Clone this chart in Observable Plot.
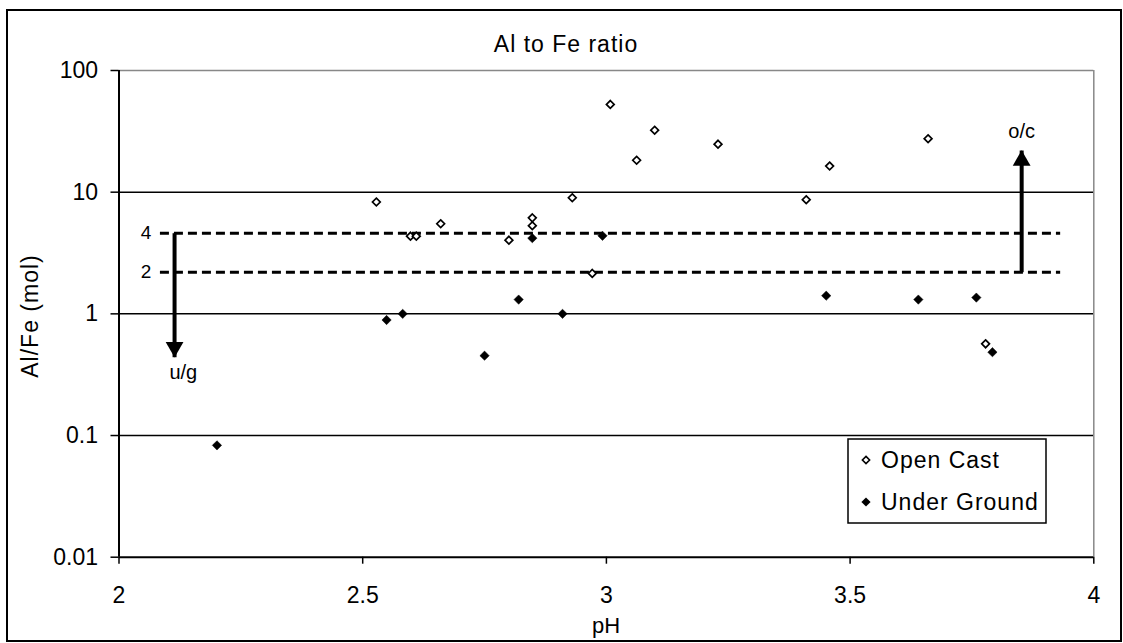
<!DOCTYPE html>
<html><head><meta charset="utf-8">
<script src="https://cdn.jsdelivr.net/npm/d3@7"></script>
<script src="https://cdn.jsdelivr.net/npm/@observablehq/plot@0.6"></script>
<style>
html,body{margin:0;padding:0;background:#fff;}
#chart{width:1123px;height:643px;overflow:hidden;}
</style></head><body><div id="chart"></div>
<script>
// ---- data ----
const openPH    = [2.528, 2.598, 2.610, 2.660, 2.800, 2.848, 2.848, 2.930, 2.971, 3.008, 3.062, 3.099, 3.229, 3.410, 3.458, 3.660, 3.778];
const openRatio = [8.3,   4.35,  4.35,  5.5,   4.03,  6.15,  5.3,   9.0,   2.15,  52.6,  18.3,  32.3,  24.8,  8.67,  16.4,  27.5,  0.567];
const ugPH      = [2.201, 2.549, 2.582, 2.750, 2.820, 2.848, 2.910, 2.992, 3.451, 3.640, 3.759, 3.792];
const ugRatio   = [0.083, 0.89,  1.0,   0.453, 1.31,  4.19,  1.0,   4.38,  1.41,  1.31,  1.36,  0.484];
const seriesNames = ["Open Cast", "Under Ground"];

const xTicks = [2, 2.5, 3, 3.5, 4];
const xTickLabels = ["2", "2.5", "3", "3.5", "4"];
const yTicks = [0.01, 0.1, 1, 10, 100];
const yTickLabels = ["0.01", "0.1", "1", "10", "100"];
const gridValues = [0.1, 1, 10];

const thresholdValues = [4.6, 2.2];
const thresholdLabels = ["4", "2"];
const thresholdStart = 2.085, thresholdEnd = 3.932;

const arrowPH    = [2.114, 3.852];
const arrowFrom  = [4.6, 2.2];
const arrowTo    = [0.44, 22];
const arrowDir   = ["down", "up"];
const arrowLabels = ["u/g", "o/c"];
const arrowLabelPH = [2.132, 3.852];
const arrowLabelY  = [0.33, 31.5];

const titleText = "Al to Fe ratio";
const xLabel = "pH";
const yLabel = "Al/Fe (mol)";

// ---- tables built from arrays ----
const openData = openPH.map((x, i) => ({x, y: openRatio[i]}));
const ugData = ugPH.map((x, i) => ({x, y: ugRatio[i]}));
const thresholds = thresholdValues.map((v, i) => ({v, label: thresholdLabels[i], x1: thresholdStart, x2: thresholdEnd}));
const arrows = arrowPH.map((x, i) => ({x, y1: arrowFrom[i], y2: arrowTo[i], dir: arrowDir[i], label: arrowLabels[i], lx: arrowLabelPH[i], ly: arrowLabelY[i]}));

const W = 1123, H = 643;
const FONT = "'Liberation Sans', Arial, sans-serif";

const plot = Plot.plot({
  width: W, height: H,
  marginLeft: 118.5, marginRight: 29.7, marginTop: 70, marginBottom: 86.3,
  style: {fontFamily: FONT, fontSize: "23px", background: "white", color: "black"},
  x: {domain: [2, 4]},
  y: {type: "log", domain: [0.01, 100]},
  marks: [
    Plot.ruleY(gridValues, {stroke: "black", strokeWidth: 1.5}),
    Plot.ruleY([100], {stroke: "#888", strokeWidth: 1.5}),
    Plot.ruleX([4], {stroke: "#888", strokeWidth: 1.5}),
    Plot.axisX({ticks: xTicks, tickFormat: d => xTickLabels[xTicks.indexOf(d)], tickSize: 7, tickPadding: 22, strokeWidth: 1.5, label: null, fontSize: 23}),
    Plot.axisY({ticks: yTicks, tickFormat: d => yTickLabels[yTicks.indexOf(d)], tickSize: 8, tickPadding: 13, strokeWidth: 1.5, label: null, fontSize: 23}),
    Plot.ruleX([2], {stroke: "black", strokeWidth: 2}),
    Plot.ruleY([0.01], {stroke: "black", strokeWidth: 2}),
    // dashed threshold lines
    Plot.ruleY(thresholds, {y: "v", x1: "x1", x2: "x2", stroke: "black", strokeWidth: 3, strokeDasharray: "9,5"}),
    Plot.text(thresholds, {x: "x1", y: "v", text: "label", textAnchor: "end", dx: -9, fontSize: 19}),
    // arrows
    Plot.link(arrows, {x1: "x", x2: "x", y1: "y1", y2: "y2", stroke: "black", strokeWidth: 4}),
    Plot.dot(arrows.filter(a => a.dir === "down"), {x: "x", y: "y2", symbol: "triangle", r: 6.6, fill: "black", rotate: 180, dy: -10}),
    Plot.dot(arrows.filter(a => a.dir === "up"), {x: "x", y: "y2", symbol: "triangle", r: 6.6, fill: "black", dy: 10}),
    Plot.text(arrows, {x: "lx", y: "ly", text: "label", fontSize: 20}),
    // data
    Plot.dot(openData, {x: "x", y: "y", symbol: "diamond2", r: 3.5, fill: "white", stroke: "black", strokeWidth: 1.7}),
    Plot.dot(ugData, {x: "x", y: "y", symbol: "diamond2", r: 4.2, fill: "black", stroke: "black", strokeWidth: 0.5})
  ]
});
document.getElementById("chart").appendChild(plot);

const svg = d3.select(plot);
// chart frame
svg.append("rect").attr("x", 7).attr("y", 10).attr("width", 1114).attr("height", 631)
  .attr("fill", "none").attr("stroke", "black").attr("stroke-width", 2);
// title and axis labels
svg.append("text").attr("x", 566).attr("y", 52).attr("text-anchor", "middle").attr("letter-spacing", 1)
  .attr("font-family", FONT).attr("font-size", 23).text(titleText);
svg.append("text").attr("x", 606).attr("y", 633).attr("text-anchor", "middle")
  .attr("font-family", FONT).attr("font-size", 22).text(xLabel);
svg.append("text").attr("transform", "translate(38,316) rotate(-90)").attr("text-anchor", "middle").attr("letter-spacing", 1)
  .attr("font-family", FONT).attr("font-size", 23).text(yLabel);
// legend
const lg = svg.append("g").attr("text-anchor", "start");
lg.append("rect").attr("x", 848).attr("y", 439).attr("width", 198).attr("height", 84)
  .attr("fill", "white").attr("stroke", "black").attr("stroke-width", 1.5);
const dia = (cx, cy, r) => `M${cx},${cy - r}L${cx + r},${cy}L${cx},${cy + r}L${cx - r},${cy}Z`;
lg.append("path").attr("d", dia(866, 460, 3.6)).attr("fill", "white").attr("stroke", "black").attr("stroke-width", 1.6);
lg.append("path").attr("d", dia(866, 502, 4.6)).attr("fill", "black");
lg.append("text").attr("x", 881).attr("y", 468).attr("text-anchor", "start").attr("letter-spacing", 1)
  .attr("font-family", FONT).attr("font-size", 23).text(seriesNames[0]);
lg.append("text").attr("x", 881).attr("y", 510).attr("text-anchor", "start").attr("letter-spacing", 1)
  .attr("font-family", FONT).attr("font-size", 23).text(seriesNames[1]);
</script>
</body></html>
